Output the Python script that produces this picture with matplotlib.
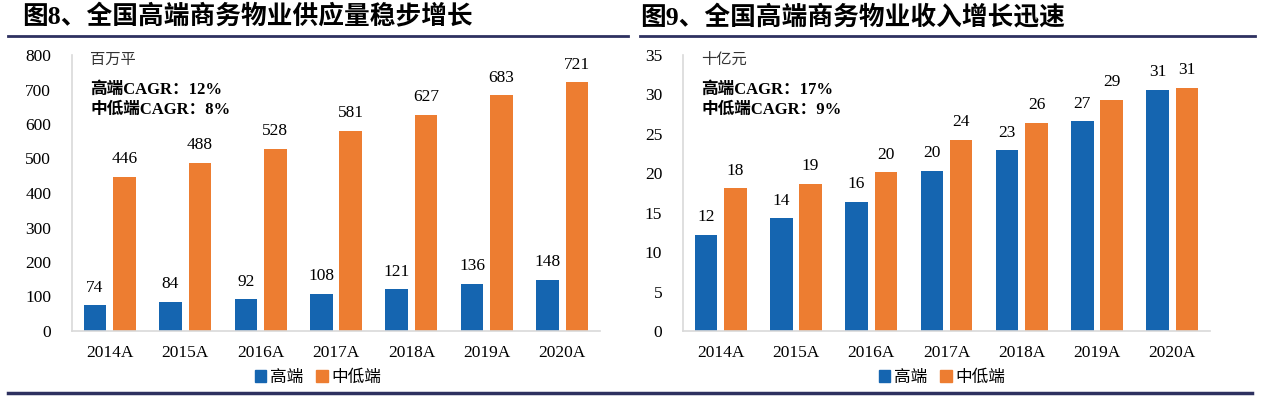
import matplotlib.pyplot as plt
import numpy as np
from matplotlib.patches import Patch
from matplotlib.lines import Line2D

years = ['2014A', '2015A', '2016A', '2017A', '2018A', '2019A', '2020A']
supply_high = [74, 84, 92, 108, 121, 136, 148]
supply_mid = [446, 488, 528, 581, 627, 683, 721]
income_high = [12.2, 14.3, 16.4, 20.3, 22.9, 26.6, 30.6]
income_mid = [18.1, 18.7, 20.1, 24.2, 26.4, 29.3, 30.8]

BLUE = '#1565B0'
ORANGE = '#ED7D31'
NAVY = '#2E3160'
SERIF = ['Liberation Serif', 'Noto Sans CJK SC']
CJK = ['Noto Sans CJK SC', 'DejaVu Sans']

W, H = 1267, 399
fig = plt.figure(figsize=(W / 100, H / 100), dpi=100)


def px_axes(x0, x1, y0, y1):
    return fig.add_axes([x0 / W, 1 - y1 / H, (x1 - x0) / W, (y1 - y0) / H])


def draw_panel(ax, high, mid, ymax, ystep, unit, cagr_hi, cagr_mid):
    x = np.arange(len(years))
    bw = 0.30
    off = 0.195
    b1 = ax.bar(x - off, high, bw, color=BLUE, label='高端')
    b2 = ax.bar(x + off, mid, bw, color=ORANGE, label='中低端')
    for b in (b1, b2):
        ax.bar_label(b, fmt='%.0f', padding=7, fontsize=12.5, family=SERIF)
    ax.set_xlim(-0.5, len(years) - 0.5)
    ax.set_ylim(0, ymax)
    ax.set_yticks(np.arange(0, ymax + ystep / 2, ystep))
    ax.set_xticks(x)
    ax.set_xticklabels(years)
    for lab in ax.get_xticklabels() + ax.get_yticklabels():
        lab.set_family(SERIF)
        lab.set_fontsize(12.5)
    ax.tick_params(axis='y', length=0, pad=15)
    ax.tick_params(axis='x', length=0, pad=10)
    for s in ('top', 'right'):
        ax.spines[s].set_visible(False)
    for s in ('left', 'bottom'):
        ax.spines[s].set_color('#D9D9D9')
        ax.spines[s].set_linewidth(1.2)
    ax.text(0.035, 0.985, unit, transform=ax.transAxes, family=CJK,
            fontsize=11, color='#333333', va='center')
    ax.text(0.035, 0.875, cagr_hi, transform=ax.transAxes, family=SERIF,
            fontsize=12, fontweight='bold', va='center')
    ax.text(0.035, 0.80, cagr_mid, transform=ax.transAxes, family=SERIF,
            fontsize=12, fontweight='bold', va='center')


ax1 = px_axes(72, 600, 55, 331)
draw_panel(ax1, supply_high, supply_mid, 800, 100, '百万平',
           '高端CAGR：12%', '中低端CAGR：8%')
ax2 = px_axes(683, 1210, 55, 331)
draw_panel(ax2, income_high, income_mid, 35, 5, '十亿元',
           '高端CAGR：17%', '中低端CAGR：9%')

handles = [Patch(color=BLUE), Patch(color=ORANGE)]
for cx in (318, 942):
    fig.legend(handles, ['高端', '中低端'], loc='center',
               bbox_to_anchor=(cx / W, 1 - 377 / H), ncol=2, frameon=False,
               prop={'family': CJK, 'size': 12}, handlelength=0.7,
               handleheight=0.7, handletextpad=0.2, columnspacing=0.8)

fig.text(22 / W, 1 - 17 / H, '图8、全国高端商务物业供应量稳步增长',
         family=SERIF, fontsize=18.5, fontweight='bold', va='center')
fig.text(640 / W, 1 - 17 / H, '图9、全国高端商务物业收入增长迅速',
         family=SERIF, fontsize=18.5, fontweight='bold', va='center')

for xa, xb in ((8, 628), (640, 1255)):
    fig.add_artist(Line2D([xa / W, xb / W], [1 - 36 / H, 1 - 36 / H],
                          color=NAVY, lw=2))
fig.add_artist(Line2D([8 / W, 1252 / W], [1 - 393 / H, 1 - 393 / H],
                      color=NAVY, lw=2.5))

fig.savefig('out.png', dpi=100)
